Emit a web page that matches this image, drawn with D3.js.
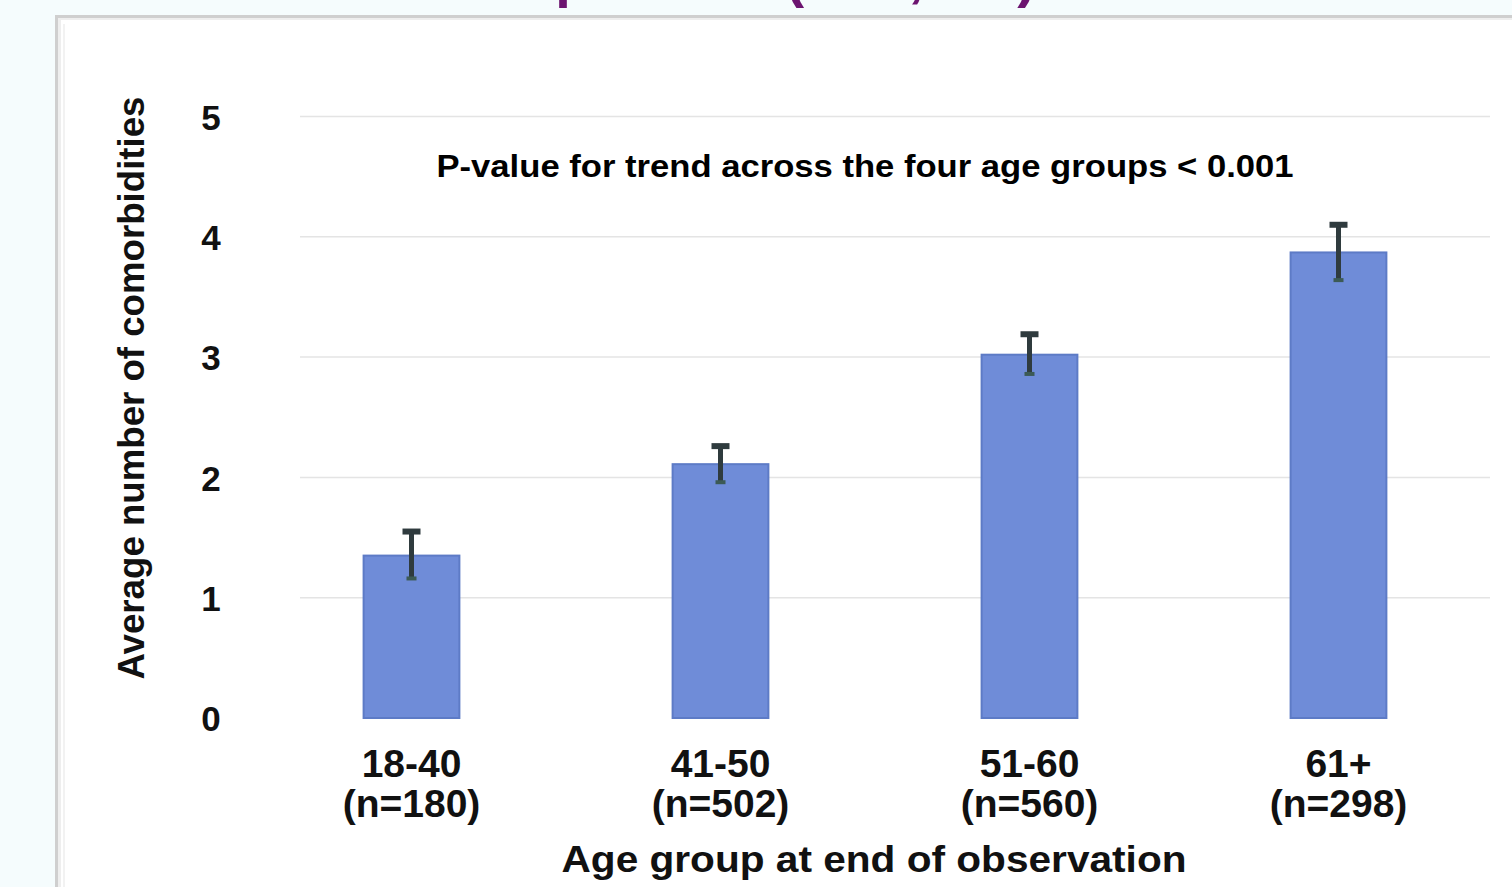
<!DOCTYPE html>
<html>
<head>
<meta charset="utf-8">
<script src="https://cdn.jsdelivr.net/npm/d3@7"></script>
<style>
  html, body { margin: 0; padding: 0; background: #f5fcfd; overflow: hidden; }
  svg { display: block; }
  text { font-family: "Liberation Sans", Arial, sans-serif; font-weight: bold; }
</style>
</head>
<body>
<script>
// Age groups at end of observation and their sizes
const ageGroups = ["18-40", "41-50", "51-60", "61+"];
const groupSizes = [180, 502, 560, 298];
// Mean number of comorbidities with lower / upper confidence limits
const meanComorb = [1.35, 2.11, 3.02, 3.87];
const lowerCI = [1.16, 1.96, 2.86, 3.64];
const upperCI = [1.55, 2.26, 3.19, 4.10];
const yTicks = [0, 1, 2, 3, 4, 5];

const W = 1512, H = 887;
const svg = d3.select("body").append("svg").attr("width", W).attr("height", H);

// slide title (runs above the visible area)
svg.append("text")
  .attr("x", 1036).attr("y", -4)
  .attr("text-anchor", "end")
  .attr("font-size", 56)
  .attr("fill", "#6c1470")
  .text("Comorbidities in patients (N=1,540)");

// chart panel
svg.append("rect").attr("x", 55).attr("y", 15).attr("width", W).attr("height", H)
  .attr("fill", "#cfcfcf");
svg.append("rect").attr("x", 58).attr("y", 18).attr("width", W).attr("height", H)
  .attr("fill", "#eeeeee");
svg.append("rect").attr("x", 61).attr("y", 20).attr("width", W).attr("height", H)
  .attr("fill", "#ffffff");
svg.append("line").attr("x1", 64).attr("x2", 64).attr("y1", 24).attr("y2", H)
  .attr("stroke", "#f2f2f2").attr("stroke-width", 2);

const x = d3.scaleBand().domain(ageGroups).range([257, 1493])
  .paddingInner(0.69).paddingOuter(0.345);
const y = d3.scaleLinear().domain([0, 5]).range([718, 116.5]);

// horizontal gridlines
svg.append("g").selectAll("line").data(yTicks.filter(d => d > 0)).join("line")
  .attr("x1", 300).attr("x2", 1490)
  .attr("y1", d => y(d)).attr("y2", d => y(d))
  .attr("stroke", "#e4e4e4").attr("stroke-width", 1.5);

// y tick labels
const yAxis = d3.axisLeft(y).tickValues(yTicks).tickSize(0).tickPadding(0).tickFormat(d3.format("d"));
const gy = svg.append("g").attr("transform", "translate(211,0)").call(yAxis);
gy.select(".domain").remove();
gy.selectAll("text")
  .attr("x", 0).attr("dy", "0.36em")
  .attr("text-anchor", "middle")
  .attr("font-size", 35).attr("font-family", null).attr("fill", "#111");

// y axis title
svg.append("text")
  .attr("transform", "translate(144,388) rotate(-90)")
  .attr("text-anchor", "middle")
  .attr("font-size", 36)
  .attr("textLength", 583).attr("lengthAdjust", "spacingAndGlyphs")
  .attr("fill", "#111")
  .text("Average number of comorbidities");

// bars
const rows = ageGroups.map((g, i) => ({ g, n: groupSizes[i], m: meanComorb[i], lo: lowerCI[i], hi: upperCI[i] }));
svg.append("g").selectAll("rect").data(rows).join("rect")
  .attr("x", d => x(d.g)).attr("width", x.bandwidth())
  .attr("y", d => y(d.m)).attr("height", d => y(0) - y(d.m))
  .attr("fill", "#6f8cd8").attr("stroke", "#5d7bc6").attr("stroke-width", 2);

// error bars
const eb = svg.append("g").selectAll("g").data(rows).join("g")
  .attr("transform", d => `translate(${x(d.g) + x.bandwidth() / 2},0)`);
eb.append("line")
  .attr("y1", d => y(d.lo)).attr("y2", d => y(d.hi))
  .attr("stroke", "#2f3b3e").attr("stroke-width", 5);
eb.append("line")
  .attr("x1", -9).attr("x2", 9)
  .attr("y1", d => y(d.hi)).attr("y2", d => y(d.hi))
  .attr("stroke", "#2f3b3e").attr("stroke-width", 6);
eb.append("line")
  .attr("x1", -5).attr("x2", 5)
  .attr("y1", d => y(d.lo)).attr("y2", d => y(d.lo))
  .attr("stroke", "#3c5a55").attr("stroke-width", 4);

// x tick labels (two lines)
const xAxis = d3.axisBottom(x).tickSize(0).tickPadding(0);
const gx = svg.append("g").call(xAxis);
gx.select(".domain").remove();
gx.selectAll(".tick text").each(function (d, i) {
  const t = d3.select(this).text(null)
    .attr("y", 0).attr("dy", null)
    .attr("font-size", 39).attr("font-family", null).attr("fill", "#111");
  t.append("tspan").attr("x", 0).attr("y", 777).text(d);
  t.append("tspan").attr("x", 0).attr("y", 817).text(`(n=${groupSizes[i]})`);
});

// x axis title
svg.append("text")
  .attr("x", 874).attr("y", 872)
  .attr("text-anchor", "middle")
  .attr("font-size", 37)
  .attr("textLength", 625).attr("lengthAdjust", "spacingAndGlyphs")
  .attr("fill", "#111")
  .text("Age group at end of observation");

// trend annotation
svg.append("text")
  .attr("x", 865).attr("y", 177)
  .attr("text-anchor", "middle")
  .attr("font-size", 32)
  .attr("textLength", 857).attr("lengthAdjust", "spacingAndGlyphs")
  .attr("fill", "#000")
  .text("P-value for trend across the four age groups < 0.001");
</script>
</body>
</html>
